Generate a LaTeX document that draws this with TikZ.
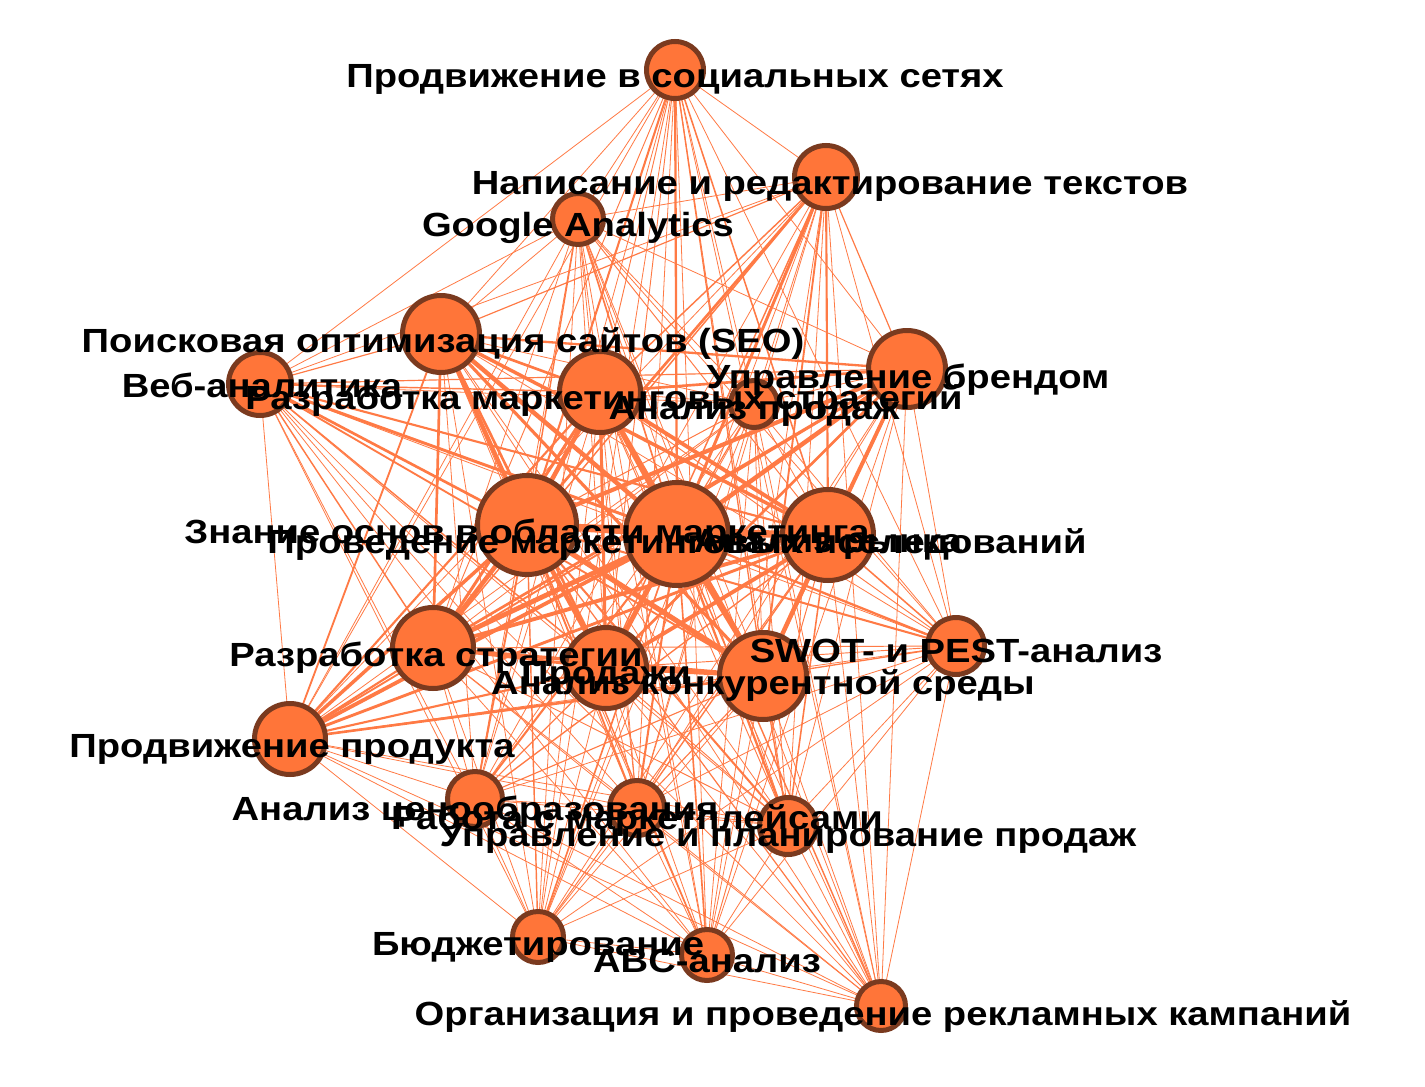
\documentclass[tikz,border=0pt]{standalone}
\usepackage{fontspec}
\setmainfont[FakeStretch=1.14]{Liberation Sans}
\definecolor{edgec}{HTML}{FF7A45}
\definecolor{nodefill}{HTML}{FF7539}
\definecolor{nodeborder}{HTML}{7A3A1F}
\begin{document}
\begin{tikzpicture}[x=1pt,y=-1pt,
  edge/.style={draw=edgec},
  vert/.style={circle,fill=nodefill,draw=nodeborder,line width=5pt,inner sep=0pt},
  lab/.style={anchor=base,inner sep=0pt,font=\fontsize{33.5}{33.5}\selectfont\bfseries,text=black}]
\useasboundingbox (0,0) rectangle (1425,1087);
\fill[white] (0,0) rectangle (1425,1087);
% coordinates of vertices
\foreach \k/\x/\y in {1/675/70,2/826/177,3/578/219,4/441/334,5/260/384,6/600/392,7/754/404,8/907/369,
  9/527/525,10/677/534,11/828/535,12/433/648,13/606/668,14/763/676,15/956/646,16/290/739,
  17/475/799,18/637/808,19/788/826,20/538/937,21/707/955,22/881/1006}
  {\coordinate (n\k) at (\x,\y);}
\def\rad{{31,34,28,41,34,43,26,41,52,54,48,43,43,46,31,38,30,30,31,28,28,27}}
% edges
\foreach \i in {1,...,21}{
  \pgfmathtruncatemacro\s{\i+1}
  \foreach \j in {\s,...,22}{
    \pgfmathsetmacro\ri{\rad[\i-1]}
    \pgfmathsetmacro\rj{\rad[\j-1]}
    \pgfmathsetmacro\w{max(0.8,0.8+6*(\ri*\rj-1300)/1500)}
    \draw[edge,line width=\w pt] (n\i) -- (n\j);
  }
}
% vertices
\foreach \k in {1,...,22}{
  \pgfmathsetmacro\r{2*\rad[\k-1]-5}
  \node[vert,minimum size=\r pt] (c\k) at (n\k) {};
}
% labels
\node[lab] (l1) at (675,87) {Продвижение в социальных сетях};
\node[lab] (l2) at (830,194) {Написание и редактирование текстов};
\node[lab] (l3) at (578,236) {Google Analytics};
\node[lab] (l4) at (443,352) {Поисковая оптимизация сайтов (SEO)};
\node[lab] (l5) at (262,397) {Веб-аналитика};
\node[lab] (l6) at (604,409) {Разработка маркетинговых стратегий};
\node[lab] (l7) at (754,419) {Анализ продаж};
\node[lab] (l8) at (908,388) {Управление брендом};
\node[lab] (l9) at (527,543) {Знание основ в области маркетинга};
\node[lab] (l10) at (677,553) {Проведение маркетинговых исследований};
\node[lab] (l11) at (828,552) {Анализ рынка};
\node[lab] (l12) at (436,666) {Разработка стратегии};
\node[lab] (l13) at (606,684) {Продажи};
\node[lab] (l14) at (763,694) {Анализ конкурентной среды};
\node[lab] (l15) at (956,662) {SWOT- и PEST-анализ};
\node[lab] (l16) at (292,757) {Продвижение продукта};
\node[lab] (l17) at (475,820) {Анализ ценообразования};
\node[lab] (l18) at (637,829) {Работа с маркетплейсами};
\node[lab] (l19) at (788,846) {Управление и планирование продаж};
\node[lab] (l20) at (538,955) {Бюджетирование};
\node[lab] (l21) at (707,972) {ABC-анализ};
\node[lab] (l22) at (883,1025) {Организация и проведение рекламных кампаний};
\end{tikzpicture}
\end{document}
